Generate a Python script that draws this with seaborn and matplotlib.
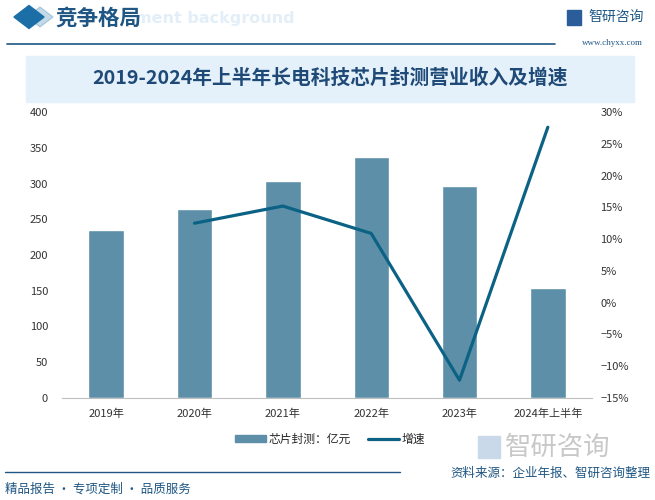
import matplotlib
matplotlib.use("Agg")
import matplotlib.pyplot as plt
import matplotlib.patches as mpatches
from matplotlib.lines import Line2D
import numpy as np
import pandas as pd
import seaborn as sns

# ---- data ----
years = ["2019年", "2020年", "2021年", "2022年", "2023年", "2024年上半年"]
revenue = [235, 264, 303, 337, 296, 154]          # 芯片封测：亿元
growth = [None, 12.5, 15.2, 10.9, -12.2, 27.6]    # 增速 %
left_ticks = [0, 50, 100, 150, 200, 250, 300, 350, 400]
right_ticks = [-15, -10, -5, 0, 5, 10, 15, 20, 25, 30]

sns.set_theme(style="white")
plt.rcParams["font.family"] = ["Noto Sans CJK SC", "DejaVu Sans"]

BAR = "#5d90a8"
LINE = "#0c6284"
DARK = "#1f5683"

fig = plt.figure(figsize=(6.55, 5.0), dpi=100)
fig.patch.set_facecolor("white")

ax = fig.add_axes([62/655, 1-398/500, (592-62)/655, (398-112)/500])
df = pd.DataFrame({"year": years, "revenue": revenue, "growth": growth})
df["pos"] = np.arange(len(years))

sns.barplot(data=df, x="year", y="revenue", color=BAR, width=0.4, ax=ax,
            saturation=1, order=years)
ax.set_ylim(0, 400)
ax.set_yticks(left_ticks)
ax.set_xlim(-0.5, len(years) - 0.5)
ax.set_xlabel("")
ax.set_ylabel("")
for s in ["top", "right", "left"]:
    ax.spines[s].set_visible(False)
ax.spines["bottom"].set_color("#bfbfbf")
ax.spines["bottom"].set_linewidth(0.8)
ax.tick_params(axis="y", length=0, labelsize=8, colors="#333333", pad=10)
ax.tick_params(axis="x", which="major", length=0, labelsize=8, colors="#333333", pad=8)
ax.set_xticks(np.arange(-0.5, len(years)), minor=True)
ax.tick_params(axis="x", which="minor", length=4, color="#bfbfbf", width=0.8)

ax2 = ax.twinx()
dl = df.dropna(subset=["growth"])
sns.lineplot(data=dl, x="pos", y="growth", color=LINE, linewidth=2.3, ax=ax2)
ax2.set_ylim(-15, 30)
ax2.set_yticks(right_ticks)
ax2.set_yticklabels([f"{t}%".replace("-", "−") for t in right_ticks])
ax2.set_xlim(-0.5, len(years) - 0.5)
ax2.set_ylabel("")
ax2.set_xlabel("")
for s in ["top", "right", "left", "bottom"]:
    ax2.spines[s].set_visible(False)
ax2.tick_params(axis="y", length=0, labelsize=8, colors="#333333", pad=6)
ax2.grid(False)
ax.grid(False)

# legend
handles = [mpatches.Patch(color=BAR, label="芯片封测：亿元"),
           Line2D([0], [0], color=LINE, lw=2.3, label="增速")]
fig.legend(handles=handles, loc="center", bbox_to_anchor=(330/655, 1-439/500),
           ncol=2, frameon=False, fontsize=8.5, handlelength=2.6, handleheight=0.5,
           columnspacing=1.5, handletextpad=0.2)

# header
fig.text(135/655, 1-18/500, "ment background", color="#e3eff8", fontsize=11.5,
         fontweight="bold", ha="left", va="center", family=["DejaVu Sans"])
fig.patches.append(mpatches.RegularPolygon((40/655, 1-17/500), 4, radius=0.02,
                   orientation=0, transform=fig.transFigure, color="#1b6ea6", alpha=0.25))
fig.patches.append(mpatches.RegularPolygon((29/655, 1-17/500), 4, radius=0.023,
                   orientation=0, transform=fig.transFigure, color="#1b6ea6"))
fig.text(55/655, 1-18/500, "竞争格局", color=DARK, fontsize=15.5, fontweight="bold",
         ha="left", va="center")
fig.add_artist(Line2D([7/655, 555/655], [1-44/500, 1-44/500], color=DARK, lw=1.2,
                      transform=fig.transFigure))
fig.text(588/655, 1-17/500, "智研咨询", color=DARK, fontsize=10, ha="left", va="center")
fig.patches.append(mpatches.Rectangle((567/655, 1-25/500), 14/655, 15/500,
                   transform=fig.transFigure, color="#2a5d9a"))
fig.text(643/655, 1-43/500, "www.chyxx.com", color=DARK, fontsize=6.5, ha="right",
         va="center", family=["Liberation Serif"])

# title box
fig.patches.append(mpatches.Rectangle((26/655, 1-102/500), (634-26)/655, (102-56)/500,
                   transform=fig.transFigure, color="#e5f1fa", zorder=0))
fig.text(330/655, 1-78/500, "2019-2024年上半年长电科技芯片封测营业收入及增速",
         color="#1f4a78", fontsize=14.2, fontweight="bold", ha="center", va="center")

# footer
fig.add_artist(Line2D([5/655, 400/655], [1-472/500, 1-472/500], color=DARK, lw=1.0,
                      transform=fig.transFigure))
fig.text(5/655, 1-489/500, "精品报告 · 专项定制 · 品质服务", color=DARK, fontsize=9,
         ha="left", va="center")
fig.text(650/655, 1-473/500, "资料来源：企业年报、智研咨询整理", color=DARK, fontsize=9,
         ha="right", va="center")
fig.text(505/655, 1-447/500, "智研咨询", color="#c8c8c8", fontsize=19,
         ha="left", va="center")
fig.patches.append(mpatches.Rectangle((478/655, 1-458/500), 22/655, 22/500,
                   transform=fig.transFigure, color="#c9d9ea"))

fig.savefig("out.png", dpi=100)
